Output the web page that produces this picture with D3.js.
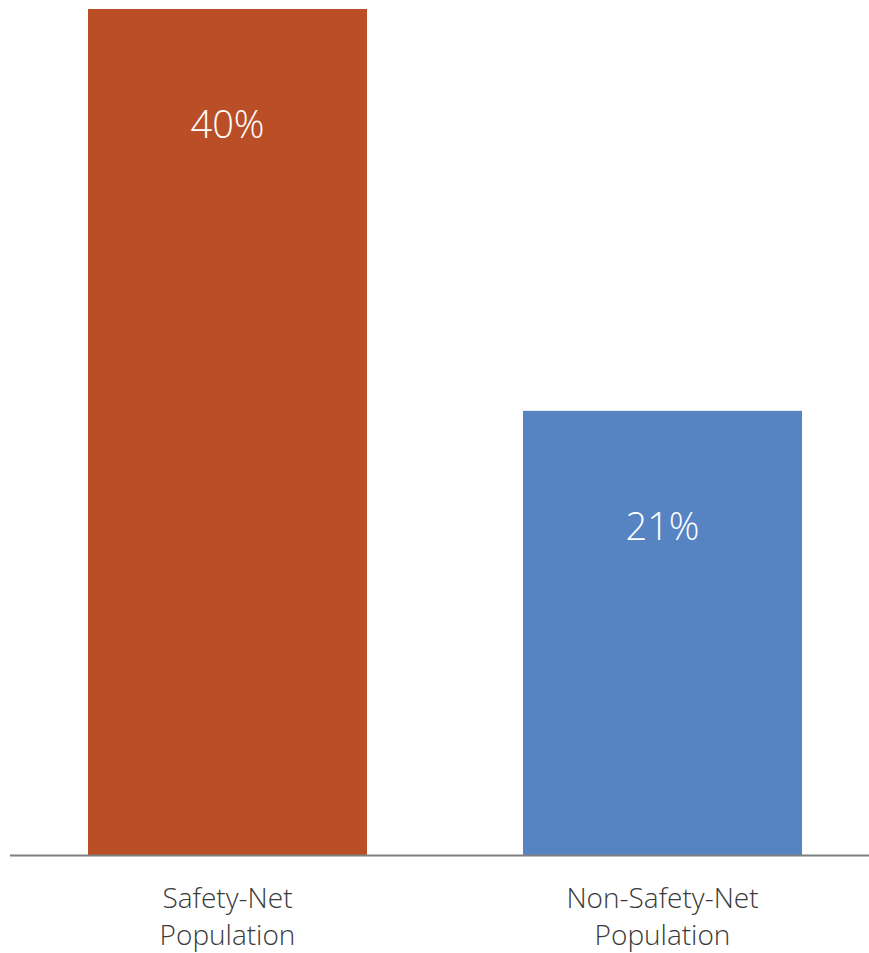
<!DOCTYPE html>
<html>
<head>
<meta charset="utf-8">
<script src="https://cdn.jsdelivr.net/npm/d3@7"></script>
<style>
  html, body { margin: 0; padding: 0; background: #ffffff; }
  svg { display: block; }
</style>
</head>
<body>
<svg id="chart" width="869" height="953"></svg>
<script>
// Share of each population group (percent)
const categories = ["Safety-Net Population", "Non-Safety-Net Population"];
const labelLines = [["Safety-Net", "Population"], ["Non-Safety-Net", "Population"]];
const values = [40, 21];
const colors = ["#B94E27", "#5683C2"];

const svg = d3.select("#chart");

const x = d3.scaleBand()
  .domain(categories)
  .range([88, 802])
  .paddingInner(0.3586)
  .paddingOuter(0);

const y = d3.scaleLinear().domain([0, 40]).range([855, 9]);

// Bars
svg.selectAll("rect.bar")
  .data(values)
  .join("rect")
  .attr("class", "bar")
  .attr("x", (d, i) => x(categories[i]))
  .attr("y", d => y(d))
  .attr("width", x.bandwidth())
  .attr("height", d => y(0) - y(d))
  .attr("fill", (d, i) => colors[i]);

// Value labels inside the bars
svg.selectAll("text.value")
  .data(values)
  .join("text")
  .attr("class", "value")
  .attr("x", (d, i) => x(categories[i]) + x.bandwidth() / 2)
  .attr("y", d => y(d) + 129)
  .attr("text-anchor", "middle")
  .attr("fill", "#ffffff")
  .style("font-family", "'Open Sans', sans-serif")
  .style("font-size", "38px")
  .style("font-weight", 300)
  .text(d => d + "%");

// Baseline
svg.append("line")
  .attr("x1", 10)
  .attr("x2", 869)
  .attr("y1", y(0) + 0.5)
  .attr("y2", y(0) + 0.5)
  .attr("stroke", "#808080")
  .attr("stroke-width", 2);

// Category labels
const cat = svg.selectAll("text.cat")
  .data(categories)
  .join("text")
  .attr("class", "cat")
  .attr("text-anchor", "middle")
  .attr("fill", "#3a3a3a")
  .style("font-family", "'Open Sans', sans-serif")
  .style("font-size", "28px")
  .style("font-weight", 300);

cat.each(function(c, i) {
  const t = d3.select(this);
  labelLines[i].forEach((line, k) => {
    t.append("tspan")
      .attr("x", x(c) + x.bandwidth() / 2)
      .attr("y", 908 + k * 37)
      .text(line);
  });
});
</script>
</body>
</html>
